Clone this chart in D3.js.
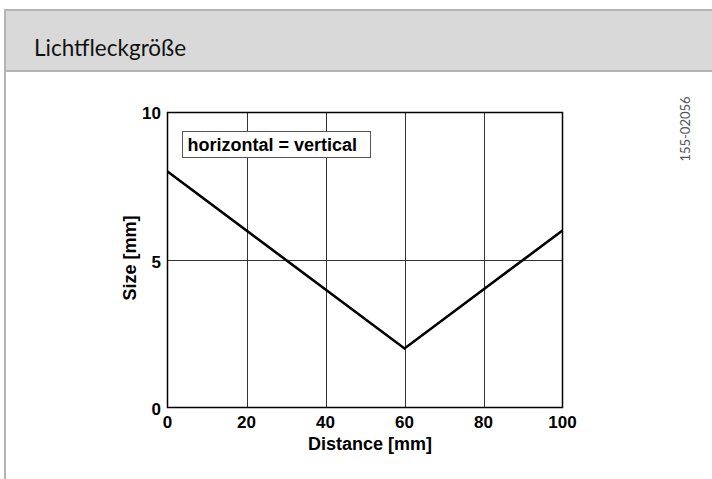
<!DOCTYPE html>
<html lang="de">
<head>
  <meta charset="utf-8">
  <title>Lichtfleckgröße</title>
  <script src="https://cdnjs.cloudflare.com/ajax/libs/d3/7.8.5/d3.min.js"></script>
  <style type="text/css">
  body { margin: 0; background: #fff; }
  #chart { display: block; }
  .tick-label, .axis-title, .legend-text {
    font-family: 'Liberation Sans', Arial, sans-serif;
    font-weight: bold;
    fill: #000;
  }
  .tick-label { font-size: 17px; }
  .axis-title, .legend-text { font-size: 18px; }
  </style>
</head>
<body>
  <svg id="chart"></svg>
  <script type="text/javascript">
  // data
  var distance = [0, 60, 100];
  var size = [8, 2, 6];
  var xTicks = [0, 20, 40, 60, 80, 100];
  var yTicks = [0, 5, 10];
  var legendLabel = "horizontal = vertical";

  var w = 712, h = 479;
  var svg = d3.select("#chart").attr("width", w).attr("height", h);

  // header panel
  svg.append("rect")
    .attr("x", 5).attr("y", 10)
    .attr("width", w).attr("height", 61)
    .attr("fill", "#d9d9d9")
    .attr("stroke", "#b4b4b4")
    .attr("stroke-width", 2);
  svg.append("line")
    .attr("x1", 5).attr("x2", 5)
    .attr("y1", 71).attr("y2", h)
    .attr("stroke", "#b4b4b4")
    .attr("stroke-width", 2);
  svg.append("text")
    .attr("x", 34).attr("y", 56)
    .style("font-family", "Lato, 'Open Sans', sans-serif")
    .style("font-size", "22.5px")
    .attr("fill", "#111")
    .text("Lichtfleckgröße");

  // plot
  var x = d3.scaleLinear().domain([0, 100]).range([167.5, 562.5]);
  var y = d3.scaleLinear().domain([0, 10]).range([407.5, 112.5]);

  var g = svg.append("g");

  // grid
  g.selectAll(".vgrid")
    .data(xTicks.slice(1, -1))
    .enter().append("line")
    .attr("x1", function(d) { return Math.round(x(d)) + 0.5; })
    .attr("x2", function(d) { return Math.round(x(d)) + 0.5; })
    .attr("y1", y(10)).attr("y2", y(0))
    .attr("stroke", "#333").attr("stroke-width", 1);
  g.selectAll(".hgrid")
    .data(yTicks.slice(1, -1))
    .enter().append("line")
    .attr("x1", x(0)).attr("x2", x(100))
    .attr("y1", function(d) { return Math.round(y(d)) + 0.5; })
    .attr("y2", function(d) { return Math.round(y(d)) + 0.5; })
    .attr("stroke", "#333").attr("stroke-width", 1);

  // frame
  g.append("rect")
    .attr("x", x(0)).attr("y", y(10))
    .attr("width", x(100) - x(0)).attr("height", y(0) - y(10))
    .attr("fill", "none")
    .attr("stroke", "#000").attr("stroke-width", 1.5);

  // legend box
  var lg = g.append("g").attr("transform", "translate(182.5,131.5)");
  lg.append("rect")
    .attr("width", 188).attr("height", 26)
    .attr("fill", "#fff")
    .attr("stroke", "#555").attr("stroke-width", 1);
  lg.append("text").attr("class", "legend-text")
    .attr("x", 5).attr("y", 19)
    .text(legendLabel);

  // series line
  var line = d3.line()
    .x(function(d) { return x(d[0]); })
    .y(function(d) { return y(d[1]); });
  g.append("path")
    .datum(d3.zip(distance, size))
    .attr("d", line)
    .attr("fill", "none")
    .attr("stroke", "#000")
    .attr("stroke-width", 2.6);

  // tick labels
  g.selectAll(".xl")
    .data(xTicks)
    .enter().append("text").attr("class", "tick-label")
    .attr("x", function(d) { return x(d); })
    .attr("y", 428)
    .attr("text-anchor", "middle")
    .text(function(d) { return d; });
  g.selectAll(".yl")
    .data(yTicks)
    .enter().append("text").attr("class", "tick-label")
    .attr("x", 161)
    .attr("y", function(d) { return y(d) + (d === 0 ? 7 : d === 5 ? 8 : 6); })
    .attr("text-anchor", "end")
    .text(function(d) { return d; });

  // axis titles
  g.append("text").attr("class", "axis-title")
    .attr("x", 370).attr("y", 450)
    .attr("text-anchor", "middle")
    .text("Distance [mm]");
  g.append("text").attr("class", "axis-title")
    .attr("transform", "translate(136," + 258 + ") rotate(-90)")
    .attr("text-anchor", "middle")
    .text("Size [mm]");

  // drawing number
  svg.append("text")
    .attr("transform", "translate(690,129) rotate(-90)")
    .attr("text-anchor", "middle")
    .style("font-family", "Lato, 'Open Sans', sans-serif")
    .style("font-size", "13px")
    .attr("fill", "#555")
    .text("155-02056");
  </script>
</body>
</html>
